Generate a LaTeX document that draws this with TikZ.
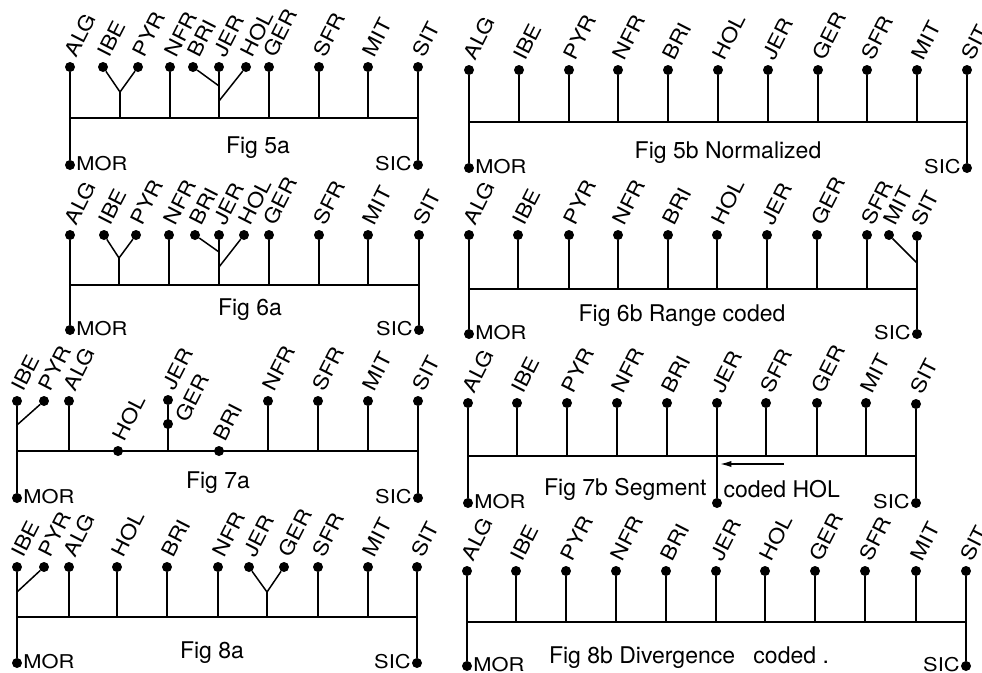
\documentclass[tikz,border=0pt]{standalone}
\usepackage{fontspec}
\setmainfont{TeX Gyre Heros}
\newfontfamily\tagfont{TeX Gyre Heros}[FakeStretch=1.15]
\usetikzlibrary{arrows.meta}

\begin{document}
\begin{tikzpicture}[
    x=1pt, y=-1pt,
    every node/.style={font=\fontsize{23}{26}\selectfont},
    leaf/.style={
        circle,
        fill=black,
        inner sep=0pt,
        minimum size=10pt
    },
    tag/.style={
        anchor=south west,
        inner sep=0pt,
        xshift=7pt,
        yshift=3pt,
        rotate=63,
        font=\tagfont\fontsize{20}{23}\selectfont
    },
    side/.style={inner sep=1pt, yshift=1pt, font=\tagfont\fontsize{19}{22}\selectfont},
    stem/.style={line width=1.5pt},
    arrow/.style={line width=1.5pt, -{Latex[length=4mm, width=2.2mm]}}
]
\useasboundingbox (0,0) rectangle (982,672);

% Fig 5a
\node[leaf, label={[tag]ALG}] (alg5a) at (70,67) {};
\node[leaf, label={[tag]IBE}] (ibe5a) at (103,67) {};
\node[leaf, label={[tag]PYR}] (pyr5a) at (138,67) {};
\node[leaf, label={[tag]NFR}] (nfr5a) at (170,67) {};
\node[leaf, label={[tag]BRI}] (bri5a) at (193,67) {};
\node[leaf, label={[tag]JER}] (jer5a) at (219,67) {};
\node[leaf, label={[tag]HOL}] (hol5a) at (246,67) {};
\node[leaf, label={[tag]GER}] (ger5a) at (269,67) {};
\node[leaf, label={[tag]SFR}] (sfr5a) at (319,67) {};
\node[leaf, label={[tag]MIT}] (mit5a) at (368,67) {};
\node[leaf, label={[tag]SIT}] (sit5a) at (418,67) {};
\node[leaf, label={[side]right:MOR}] (mor5a) at (70,165) {};
\node[leaf, label={[side]left:SIC}] (sic5a) at (418,165) {};
\node (cap5a) at (258,148) {Fig 5a};
\coordinate (l5a) at (70,118);
\coordinate (r5a) at (418,118);
\coordinate (ip5a) at (120,92);
\coordinate (bj5a) at (219,86);
\coordinate (hj5a) at (219,101);

\draw[stem] (alg5a) -- (mor5a);
\draw[stem] (sit5a) -- (sic5a);
\draw[stem] (l5a) -- (r5a);
\draw[stem] (ibe5a) -- (ip5a) -- (pyr5a);
\draw[stem] (ip5a) -- (ip5a |- l5a);
\draw[stem] (bri5a) -- (bj5a);
\draw[stem] (hol5a) -- (hj5a);
\draw[stem] (nfr5a) -- (nfr5a |- l5a) (jer5a) -- (jer5a |- l5a)
    (ger5a) -- (ger5a |- l5a) (sfr5a) -- (sfr5a |- l5a)
    (mit5a) -- (mit5a |- l5a);

% Fig 5b
\node[leaf, label={[tag]ALG}] (alg5b) at (469,70) {};
\node[leaf, label={[tag]IBE}] (ibe5b) at (519,70) {};
\node[leaf, label={[tag]PYR}] (pyr5b) at (569,70) {};
\node[leaf, label={[tag]NFR}] (nfr5b) at (618,70) {};
\node[leaf, label={[tag]BRI}] (bri5b) at (668,70) {};
\node[leaf, label={[tag]HOL}] (hol5b) at (718,70) {};
\node[leaf, label={[tag]JER}] (jer5b) at (768,70) {};
\node[leaf, label={[tag]GER}] (ger5b) at (818,70) {};
\node[leaf, label={[tag]SFR}] (sfr5b) at (867,70) {};
\node[leaf, label={[tag]MIT}] (mit5b) at (917,70) {};
\node[leaf, label={[tag]SIT}] (sit5b) at (967,70) {};
\node[leaf, label={[side]right:MOR}] (mor5b) at (469,168) {};
\node[leaf, label={[side]left:SIC}] (sic5b) at (967,168) {};
\node (cap5b) at (728,153) {Fig 5b Normalized};
\coordinate (l5b) at (469,122);
\coordinate (r5b) at (967,122);

\draw[stem] (alg5b) -- (mor5b);
\draw[stem] (sit5b) -- (sic5b);
\draw[stem] (l5b) -- (r5b);
\draw[stem] (ibe5b) -- (ibe5b |- l5b) (pyr5b) -- (pyr5b |- l5b)
    (nfr5b) -- (nfr5b |- l5b) (bri5b) -- (bri5b |- l5b)
    (hol5b) -- (hol5b |- l5b) (jer5b) -- (jer5b |- l5b)
    (ger5b) -- (ger5b |- l5b) (sfr5b) -- (sfr5b |- l5b)
    (mit5b) -- (mit5b |- l5b);

% Fig 6a
\node[leaf, label={[tag]ALG}] (alg6a) at (70,235) {};
\node[leaf, label={[tag]IBE}] (ibe6a) at (104,235) {};
\node[leaf, label={[tag]PYR}] (pyr6a) at (136,235) {};
\node[leaf, label={[tag]NFR}] (nfr6a) at (169,235) {};
\node[leaf, label={[tag]BRI}] (bri6a) at (195,235) {};
\node[leaf, label={[tag]JER}] (jer6a) at (219,235) {};
\node[leaf, label={[tag]HOL}] (hol6a) at (244,235) {};
\node[leaf, label={[tag]GER}] (ger6a) at (269,235) {};
\node[leaf, label={[tag]SFR}] (sfr6a) at (319,235) {};
\node[leaf, label={[tag]MIT}] (mit6a) at (368,235) {};
\node[leaf, label={[tag]SIT}] (sit6a) at (419,235) {};
\node[leaf, label={[side]right:MOR}] (mor6a) at (70,330) {};
\node[leaf, label={[side]left:SIC}] (sic6a) at (419,330) {};
\node (cap6a) at (250,310) {Fig 6a};
\coordinate (l6a) at (70,285);
\coordinate (r6a) at (419,285);
\coordinate (ip6a) at (119,258);
\coordinate (bj6a) at (219,252);
\coordinate (hj6a) at (219,267);

\draw[stem] (alg6a) -- (mor6a);
\draw[stem] (sit6a) -- (sic6a);
\draw[stem] (l6a) -- (r6a);
\draw[stem] (ibe6a) -- (ip6a) -- (pyr6a);
\draw[stem] (ip6a) -- (ip6a |- l6a);
\draw[stem] (bri6a) -- (bj6a);
\draw[stem] (hol6a) -- (hj6a);
\draw[stem] (nfr6a) -- (nfr6a |- l6a) (jer6a) -- (jer6a |- l6a)
    (ger6a) -- (ger6a |- l6a) (sfr6a) -- (sfr6a |- l6a)
    (mit6a) -- (mit6a |- l6a);

% Fig 6b
\node[leaf, label={[tag]ALG}] (alg6b) at (469,235) {};
\node[leaf, label={[tag]IBE}] (ibe6b) at (518,235) {};
\node[leaf, label={[tag]PYR}] (pyr6b) at (569,235) {};
\node[leaf, label={[tag]NFR}] (nfr6b) at (618,235) {};
\node[leaf, label={[tag]BRI}] (bri6b) at (668,235) {};
\node[leaf, label={[tag]HOL}] (hol6b) at (717,235) {};
\node[leaf, label={[tag]JER}] (jer6b) at (767,235) {};
\node[leaf, label={[tag]GER}] (ger6b) at (817,235) {};
\node[leaf, label={[tag]SFR}] (sfr6b) at (867,235) {};
\node[leaf, label={[tag]MIT}] (mit6b) at (889,235) {};
\node[leaf, label={[tag]SIT}] (sit6b) at (917,236) {};
\node[leaf, label={[side]right:MOR}] (mor6b) at (469,334) {};
\node[leaf, label={[side]left:SIC}] (sic6b) at (917,334) {};
\node (cap6b) at (682,316) {Fig 6b Range coded};
\coordinate (l6b) at (469,289);
\coordinate (r6b) at (917,289);
\coordinate (ms6b) at (917,263);

\draw[stem] (alg6b) -- (mor6b);
\draw[stem] (sit6b) -- (sic6b);
\draw[stem] (l6b) -- (r6b);
\draw[stem] (mit6b) -- (ms6b);
\draw[stem] (ibe6b) -- (ibe6b |- l6b) (pyr6b) -- (pyr6b |- l6b)
    (nfr6b) -- (nfr6b |- l6b) (bri6b) -- (bri6b |- l6b)
    (hol6b) -- (hol6b |- l6b) (jer6b) -- (jer6b |- l6b)
    (ger6b) -- (ger6b |- l6b) (sfr6b) -- (sfr6b |- l6b);

% Fig 7a
\node[leaf, label={[tag]IBE}] (ibe7a) at (17,401) {};
\node[leaf, label={[tag]PYR}] (pyr7a) at (44,401) {};
\node[leaf, label={[tag]ALG}] (alg7a) at (69,401) {};
\node[leaf, label={[tag]HOL}] (hol7a) at (118,451) {};
\node[leaf, label={[tag]JER}] (jer7a) at (168,400) {};
\node[leaf, label={[tag, xshift=-1.5pt, yshift=-14.8pt]GER}] (ger7a) at (168,424) {};
\node[leaf, label={[tag]BRI}] (bri7a) at (219,451) {};
\node[leaf, label={[tag]NFR}] (nfr7a) at (268,401) {};
\node[leaf, label={[tag]SFR}] (sfr7a) at (318,401) {};
\node[leaf, label={[tag]MIT}] (mit7a) at (368,401) {};
\node[leaf, label={[tag]SIT}] (sit7a) at (418,401) {};
\node[leaf, label={[side]right:MOR}] (mor7a) at (17,498) {};
\node[leaf, label={[side]left:SIC}] (sic7a) at (418,498) {};
\node (cap7a) at (218,483) {Fig 7a};
\coordinate (l7a) at (17,451);
\coordinate (r7a) at (418,451);
\coordinate (ip7a) at (17,425);

\draw[stem] (ibe7a) -- (mor7a);
\draw[stem] (sit7a) -- (sic7a);
\draw[stem] (l7a) -- (r7a);
\draw[stem] (pyr7a) -- (ip7a);
\draw[stem] (jer7a) -- (jer7a |- l7a);
\draw[stem] (alg7a) -- (alg7a |- l7a) (nfr7a) -- (nfr7a |- l7a)
    (sfr7a) -- (sfr7a |- l7a) (mit7a) -- (mit7a |- l7a);

% Fig 7b
\node[leaf, label={[tag]ALG}] (alg7b) at (468,403) {};
\node[leaf, label={[tag]IBE}] (ibe7b) at (517,403) {};
\node[leaf, label={[tag]PYR}] (pyr7b) at (567,403) {};
\node[leaf, label={[tag]NFR}] (nfr7b) at (617,403) {};
\node[leaf, label={[tag]BRI}] (bri7b) at (667,403) {};
\node[leaf, label={[tag]JER}] (jer7b) at (717,403) {};
\node[leaf, label={[tag]SFR}] (sfr7b) at (766,403) {};
\node[leaf, label={[tag]GER}] (ger7b) at (817,403) {};
\node[leaf, label={[tag]MIT}] (mit7b) at (866,403) {};
\node[leaf, label={[tag]SIT}] (sit7b) at (916,404) {};
\node[leaf] (cut7b) at (717,503) {};
\node[leaf, label={[side]right:MOR}] (mor7b) at (468,503) {};
\node[leaf, label={[side]left:SIC}] (sic7b) at (916,503) {};
\node[anchor=east] (cap7b) at (710,489) {Fig 7b Segment};
\node[anchor=west] (cod7b) at (720,489) {coded HOL};
\coordinate (l7b) at (468,456);
\coordinate (r7b) at (916,456);
\coordinate (as7b) at (784,464);
\coordinate (ae7b) at (720,464);

\draw[stem] (alg7b) -- (mor7b);
\draw[stem] (sit7b) -- (sic7b);
\draw[stem] (l7b) -- (r7b);
\draw[stem] (jer7b) -- (cut7b);
\draw[arrow] (as7b) -- (ae7b);
\draw[stem] (ibe7b) -- (ibe7b |- l7b) (pyr7b) -- (pyr7b |- l7b)
    (nfr7b) -- (nfr7b |- l7b) (bri7b) -- (bri7b |- l7b)
    (sfr7b) -- (sfr7b |- l7b) (ger7b) -- (ger7b |- l7b)
    (mit7b) -- (mit7b |- l7b);

% Fig 8a
\node[leaf, label={[tag]IBE}] (ibe8a) at (17,567) {};
\node[leaf, label={[tag]PYR}] (pyr8a) at (44,567) {};
\node[leaf, label={[tag]ALG}] (alg8a) at (69,567) {};
\node[leaf, label={[tag]HOL}] (hol8a) at (117,567) {};
\node[leaf, label={[tag]BRI}] (bri8a) at (167,567) {};
\node[leaf, label={[tag]NFR}] (nfr8a) at (218,567) {};
\node[leaf, label={[tag]JER}] (jer8a) at (249,567) {};
\node[leaf, label={[tag]GER}] (ger8a) at (284,567) {};
\node[leaf, label={[tag]SFR}] (sfr8a) at (318,567) {};
\node[leaf, label={[tag]MIT}] (mit8a) at (368,567) {};
\node[leaf, label={[tag]SIT}] (sit8a) at (417,567) {};
\node[leaf, label={[side]right:MOR}] (mor8a) at (17,663) {};
\node[leaf, label={[side]left:SIC}] (sic8a) at (417,663) {};
\node (cap8a) at (212,653) {Fig 8a};
\coordinate (l8a) at (17,617);
\coordinate (r8a) at (417,617);
\coordinate (ip8a) at (17,592);
\coordinate (jg8a) at (267,592);

\draw[stem] (ibe8a) -- (mor8a);
\draw[stem] (sit8a) -- (sic8a);
\draw[stem] (l8a) -- (r8a);
\draw[stem] (pyr8a) -- (ip8a);
\draw[stem] (jer8a) -- (jg8a) -- (ger8a);
\draw[stem] (jg8a) -- (jg8a |- l8a);
\draw[stem] (alg8a) -- (alg8a |- l8a) (hol8a) -- (hol8a |- l8a)
    (bri8a) -- (bri8a |- l8a) (nfr8a) -- (nfr8a |- l8a)
    (sfr8a) -- (sfr8a |- l8a) (mit8a) -- (mit8a |- l8a);

% Fig 8b
\node[leaf, label={[tag]ALG}] (alg8b) at (467,571) {};
\node[leaf, label={[tag]IBE}] (ibe8b) at (516,571) {};
\node[leaf, label={[tag]PYR}] (pyr8b) at (566,571) {};
\node[leaf, label={[tag]NFR}] (nfr8b) at (616,571) {};
\node[leaf, label={[tag]BRI}] (bri8b) at (666,571) {};
\node[leaf, label={[tag]JER}] (jer8b) at (716,571) {};
\node[leaf, label={[tag]HOL}] (hol8b) at (765,571) {};
\node[leaf, label={[tag]GER}] (ger8b) at (815,571) {};
\node[leaf, label={[tag]SFR}] (sfr8b) at (865,571) {};
\node[leaf, label={[tag]MIT}] (mit8b) at (916,571) {};
\node[leaf, label={[tag]SIT}] (sit8b) at (966,571) {};
\node[leaf, label={[side]right:MOR}] (mor8b) at (467,666) {};
\node[leaf, label={[side]left:SIC}] (sic8b) at (966,666) {};
\node (cap8b) at (689,658) {Fig 8b Divergence\hspace{12pt} coded .};
\coordinate (l8b) at (467,622);
\coordinate (r8b) at (966,622);

\draw[stem] (alg8b) -- (mor8b);
\draw[stem] (sit8b) -- (sic8b);
\draw[stem] (l8b) -- (r8b);
\draw[stem] (ibe8b) -- (ibe8b |- l8b) (pyr8b) -- (pyr8b |- l8b)
    (nfr8b) -- (nfr8b |- l8b) (bri8b) -- (bri8b |- l8b)
    (jer8b) -- (jer8b |- l8b) (hol8b) -- (hol8b |- l8b)
    (ger8b) -- (ger8b |- l8b) (sfr8b) -- (sfr8b |- l8b)
    (mit8b) -- (mit8b |- l8b);

\end{tikzpicture}
\end{document}
